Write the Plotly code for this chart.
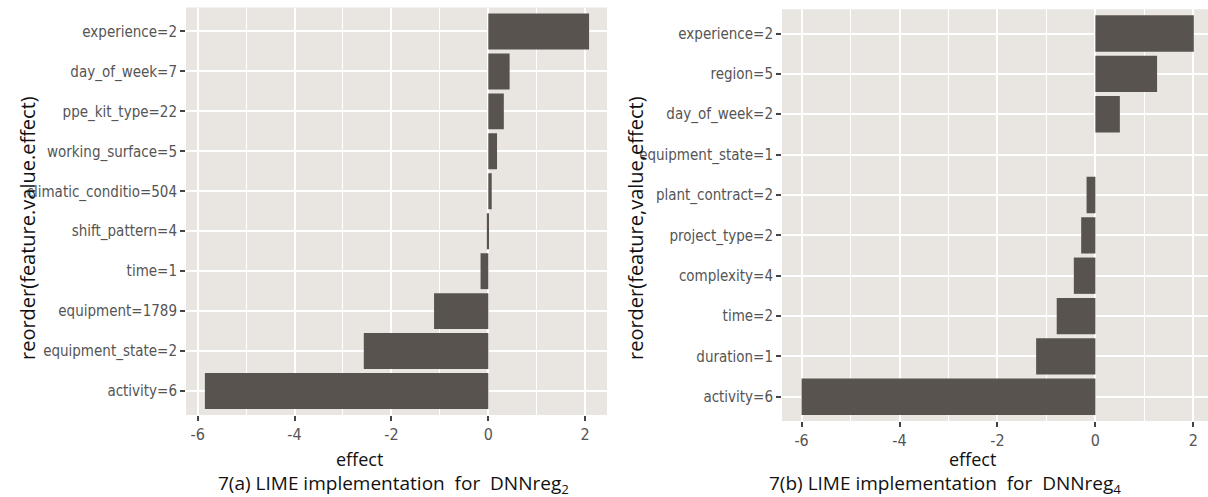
import plotly.graph_objects as go

# ---- data ----
left_features = ["activity=6", "equipment_state=2", "equipment=1789", "time=1",
                 "shift_pattern=4", "climatic_conditio=504", "working_surface=5",
                 "ppe_kit_type=22", "day_of_week=7", "experience=2"]
left_effects = [-5.85, -2.57, -1.12, -0.16, -0.03, 0.07, 0.18, 0.32, 0.44, 2.08]

right_features = ["activity=6", "duration=1", "time=2", "complexity=4",
                  "project_type=2", "plant_contract=2", "equipment_state=1",
                  "day_of_week=2", "region=5", "experience=2"]
right_effects = [-6.0, -1.21, -0.79, -0.44, -0.29, -0.18, 0.0, 0.50, 1.26, 2.01]

x_ticks = [-6, -4, -2, 0, 2]
x_minor = [-5, -3, -1, 1]

left_ytitle = "reorder(feature.value.effect)"
right_ytitle = "reorder(feature,value,effect)"
x_title = "effect"
left_caption = "7(a) LIME implementation&nbsp;&nbsp;for&nbsp;&nbsp;DNNreg<sub>2</sub>"
right_caption = "7(b) LIME implementation&nbsp;&nbsp;for&nbsp;&nbsp;DNNreg<sub>4</sub>"

# ---- style ----
W, H = 1208, 497
BAR = "#58534f"
PANEL = "#e9e6e2"
NARROW = "Liberation Sans Narrow, DejaVu Sans Condensed, Liberation Sans"
TITLEF = "Open Sans, Noto Sans, sans-serif"

fig = go.Figure()
fig.add_trace(go.Bar(x=left_effects, y=left_features, orientation="h",
                     marker=dict(color=BAR, line=dict(width=0)), width=0.9,
                     xaxis="x", yaxis="y", showlegend=False))
fig.add_trace(go.Bar(x=right_effects, y=right_features, orientation="h",
                     marker=dict(color=BAR, line=dict(width=0)), width=0.9,
                     xaxis="x2", yaxis="y2", showlegend=False))

def px_x(p):
    return p / W

def px_y(p):
    return 1 - p / H

xcommon = dict(tickvals=x_ticks, ticktext=[str(v) for v in x_ticks],
               showgrid=True, gridcolor="white", gridwidth=2, zeroline=False,
               ticks="outside", ticklen=5, tickwidth=1.5, tickcolor="#444",
               tickfont=dict(family=NARROW, size=16, color="#555"),
               minor=dict(tickvals=x_minor, showgrid=True, gridcolor="white",
                          gridwidth=1, ticks=""),
               showline=False, fixedrange=True)
ycommon = dict(type="category", showgrid=True, gridcolor="white", gridwidth=2,
               zeroline=False, ticks="outside", ticklen=5, tickwidth=1.5,
               tickcolor="#444", range=[-0.6, 9.6],
               tickfont=dict(family=NARROW, size=15, color="#555"),
               showline=False, fixedrange=True)

fig.update_layout(
    width=W, height=H, margin=dict(l=0, r=0, t=0, b=0),
    paper_bgcolor="white", plot_bgcolor=PANEL, bargap=0.1,
    xaxis=dict(domain=[px_x(186), px_x(607)], range=[-6.24, 2.45],
               anchor="y", **xcommon),
    yaxis=dict(domain=[px_y(415), px_y(7.5)], anchor="x",
               categoryorder="array", categoryarray=left_features, **ycommon),
    xaxis2=dict(domain=[px_x(782), 1.0], range=[-6.4, 2.3],
                anchor="y2", **xcommon),
    yaxis2=dict(domain=[px_y(421), px_y(9.3)], anchor="x2",
                categoryorder="array", categoryarray=right_features, **ycommon),
)

ann = []
for txt, xp in ((left_ytitle, 27), (right_ytitle, 635)):
    ann.append(dict(text=txt, x=px_x(xp), y=px_y(228), xref="paper", yref="paper",
                    textangle=-90, showarrow=False,
                    font=dict(family=TITLEF, size=20, color="#111"),
                    xanchor="center", yanchor="middle"))
for xp in (359, 972):
    ann.append(dict(text=x_title, x=px_x(xp), y=px_y(459), xref="paper", yref="paper",
                    showarrow=False, font=dict(family=TITLEF, size=18, color="#111"),
                    xanchor="center", yanchor="middle", borderpad=0))
for txt, xp in ((left_caption, 393), (right_caption, 945)):
    ann.append(dict(text=txt, x=px_x(xp), y=px_y(484), xref="paper", yref="paper",
                    showarrow=False, font=dict(family=TITLEF, size=19, color="#111"),
                    xanchor="center", yanchor="middle", borderpad=0))
fig.update_layout(annotations=ann)

fig.write_html("out.html")
